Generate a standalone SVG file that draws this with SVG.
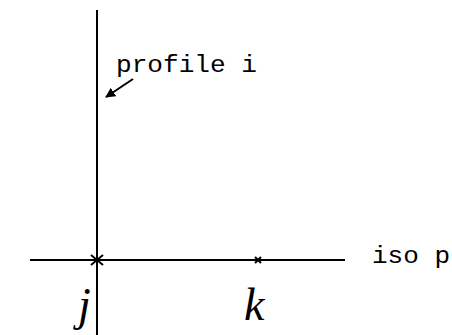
<svg xmlns="http://www.w3.org/2000/svg" width="452" height="335" viewBox="0 0 452 335">
<style>
.ln{stroke:#000;stroke-width:2;fill:none}
.mono{font-family:"Liberation Mono","DejaVu Sans Mono",monospace;font-size:24px;fill:#000}
.hand{font-family:"Liberation Serif",serif;font-style:italic;font-size:46px;fill:#000}
</style>
<defs>
<marker id="ah" viewBox="0 0 10 10" refX="9" refY="5" markerWidth="5" markerHeight="5" orient="auto">
<path d="M0,0 L10,5 L0,10 z" fill="#000"/>
</marker>
</defs>
<g id="connectors">
<line class="ln" x1="97" y1="10" x2="97" y2="335"/>
<line class="ln" x1="30" y1="260" x2="345" y2="260"/>
<line class="ln" stroke-width="2.5" x1="133" y1="79" x2="106" y2="97" marker-end="url(#ah)"/>
</g>
<g id="node-profile">
<text class="mono" x="116" y="72" textLength="141" lengthAdjust="spacingAndGlyphs">profile i</text>
</g>
<g id="node-iso">
<text class="mono" x="372" y="263" textLength="78" lengthAdjust="spacingAndGlyphs">iso p</text>
</g>
<g id="node-j">
<path class="ln" stroke-width="2.5" d="M91,255 L103,265 M103,255 L91,265"/>
<text class="hand" x="78" y="320">j</text>
</g>
<g id="node-k">
<path class="ln" stroke-width="1.5" d="M255,257 L261,263 M261,257 L255,263"/>
<text class="hand" x="244" y="320">k</text>
</g>
</svg>
